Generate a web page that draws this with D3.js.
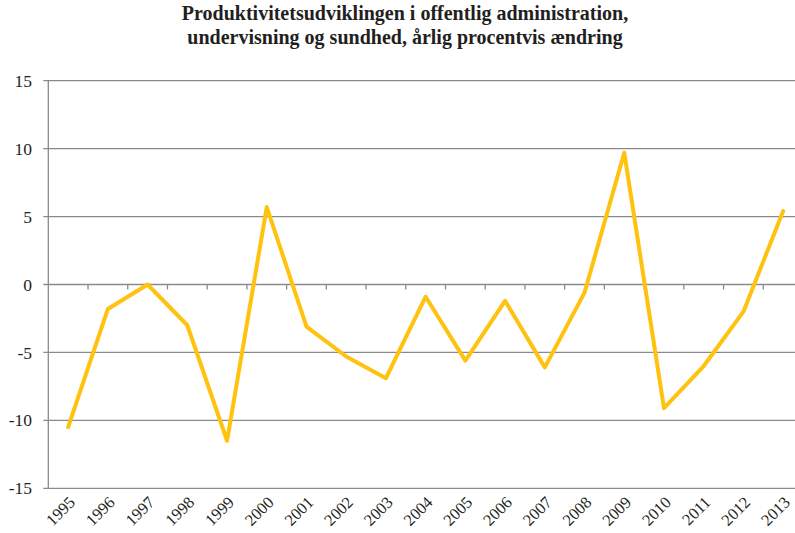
<!DOCTYPE html>
<html>
<head>
<meta charset="utf-8">
<script src="https://cdn.jsdelivr.net/npm/d3@7"></script>
<style>
  body { margin: 0; background: #fff; }
  svg { display: block; }
  svg text { font-family: 'Liberation Serif', serif; fill: #231f20; }
</style>
</head>
<body>
<div id="chart"></div>
<script>
const years = ["1995","1996","1997","1998","1999","2000","2001","2002","2003","2004",
               "2005","2006","2007","2008","2009","2010","2011","2012","2013"];
const values = [-10.5,-1.8,0.0,-3.0,-11.5,5.7,-3.1,-5.3,-6.9,-0.9,
                -5.6,-1.2,-6.1,-0.6,9.7,-9.1,-6.0,-2.0,5.4];
const yTicks = [-15,-10,-5,0,5,10,15];
const titleLines = ["Produktivitetsudviklingen i offentlig administration,",
                    "undervisning og sundhed, årlig procentvis ændring"];

const width = 795, height = 533;
const plotLeft = 48.3, plotRight = 803, plotTop = 80.7, plotBottom = 488.3;
const gridColor = "#8a8a8a";

const svg = d3.select("#chart").append("svg")
  .attr("width", width)
  .attr("height", height);

svg.append("text")
  .attr("text-anchor", "middle")
  .attr("font-weight", "bold")
  .attr("font-size", 20)
  .selectAll("tspan")
  .data(titleLines)
  .join("tspan")
  .attr("x", 405)
  .attr("y", (d, i) => 20 + i * 24)
  .text(d => d);

const x = d3.scaleBand().domain(years).range([plotLeft, plotRight]);
const y = d3.scaleLinear().domain([-15, 15]).range([plotBottom, plotTop]);

// horizontal gridlines (and y ticks)
svg.append("g")
  .selectAll("line")
  .data(yTicks)
  .join("line")
  .attr("x1", plotLeft - 5)
  .attr("x2", plotRight)
  .attr("y1", d => y(d))
  .attr("y2", d => y(d))
  .attr("stroke", gridColor)
  .attr("stroke-width", 1.3);

// y axis line
svg.append("line")
  .attr("x1", plotLeft).attr("x2", plotLeft)
  .attr("y1", plotTop).attr("y2", plotBottom)
  .attr("stroke", gridColor)
  .attr("stroke-width", 1.3);

// y labels
svg.append("g")
  .selectAll("text")
  .data(yTicks)
  .join("text")
  .attr("x", 32)
  .attr("y", d => y(d))
  .attr("dy", "0.35em")
  .attr("text-anchor", "end")
  .attr("font-size", 17.5)
  .text(d => d);

// category tick marks on the zero line
svg.append("g")
  .selectAll("line")
  .data(years.slice(1))
  .join("line")
  .attr("x1", d => x(d))
  .attr("x2", d => x(d))
  .attr("y1", y(0))
  .attr("y2", y(0) + 5)
  .attr("stroke", gridColor)
  .attr("stroke-width", 1.3);

// x labels, rotated
svg.append("g")
  .selectAll("text")
  .data(years)
  .join("text")
  .attr("transform", d => `translate(${x(d) + x.bandwidth() / 2 + 8},${plotBottom + 15}) rotate(-45)`)
  .attr("text-anchor", "end")
  .attr("font-size", 16.5)
  .text(d => d);

const line = d3.line()
  .x((d, i) => x(years[i]) + x.bandwidth() / 2)
  .y(d => y(d));

svg.append("path")
  .datum(values)
  .attr("d", line)
  .attr("fill", "none")
  .attr("stroke", "#ffc20e")
  .attr("stroke-width", 4)
  .attr("stroke-linejoin", "round")
  .attr("stroke-linecap", "round");
</script>
</body>
</html>
